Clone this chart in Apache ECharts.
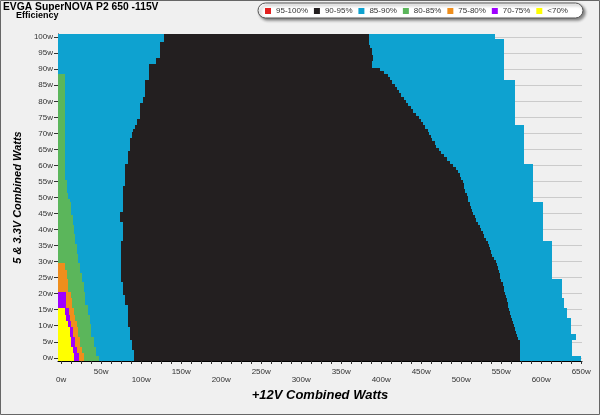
<!DOCTYPE html>
<html><head><meta charset="utf-8">
<script src="https://cdn.jsdelivr.net/npm/echarts@6/dist/echarts.min.js"></script>
<style>html,body{margin:0;padding:0;background:#f0f0f0}#c{width:600px;height:415px}</style>
</head><body><div id="c"></div>
<script>
// ---- text ----
const titleText = 'EVGA SuperNOVA P2 650 -115V';
const subtitleText = 'Efficiency';
const xAxisName = '+12V Combined Watts';
const yAxisName = '5 & 3.3V Combined Watts';
const legendNames = ['95-100%', '90-95%', '85-90%', '80-85%', '75-80%', '70-75%', '<70%'];
const bandColors = ['#e3201f', '#231f20', '#0ea2d0', '#5bb65b', '#ef8e1c', '#9f00ff', '#ffff00'];
const xTickLabels = [0, 50, 100, 150, 200, 250, 300, 350, 400, 450, 500, 550, 600, 650];
const yTickLabels = [0, 5, 10, 15, 20, 25, 30, 35, 40, 45, 50, 55, 60, 65, 70, 75, 80, 85, 90, 95, 100];

// ---- data: per row (5V+3.3V load in W), x boundary (12V load in W) where each band ends ----
// runs: [fromRow, toRow, watts]
const yellowEnd = [[0,1,16.3],[2,3,14.6],[4,6,12.5],[7,9,10.4],[10,11,8.3],[12,13,6.3],[14,15,5]];
const purpleEnd = [[0,1,22.5],[2,3,19.6],[4,6,17.5],[7,9,14.6],[10,11,12.5],[12,13,11],[14,15,10],[16,20,6.5]];
const orangeEnd = [[0,1,28.5],[2,3,25.8],[4,6,23.8],[7,9,21.6],[10,11,19.6],[12,13,17.5],[14,15,15.4],[16,18,13.4],[19,20,12],[21,24,9],[25,27,7],[28,29,4.5]];
const greenEnd = [[0,0,46.7],[1,3,44],[4,6,40.5],[7,10,37.5],[11,13,35.5],[14,16,33],[17,20,30],[21,23,28],[24,26,25.8],[27,29,23.8],[30,32,21.6],[33,35,19.6],[36,38,17.5],[39,41,16],[42,44,14.6],[45,48,12.5],[49,49,11],[50,51,9],[52,55,7],[56,88,5]];
const blackStart = [[0,2,91],[3,5,88],[6,9,86],[10,16,83],[17,19,80],[20,23,77],[24,36,75],[37,42,77],[43,45,74],[46,53,77],[54,60,80],[61,64,83],[65,68,86],[69,70,88],[71,71,90],[72,72,92],[73,74,95],[75,79,99],[80,81,102],[82,86,105],[87,91,110],[92,93,119],[94,98,123],[99,100,128]];
const blackEnd = [574,574,574,574,574,573,571,570,568,567,566,565,564,562,561,560,559,558,557,556,
  555,554,553,552,550,549,548,547,546,545,543,541,539,537,536,535,533,531,529,527,
  525,523,521,519,517,515,514,512,511,509,508,507,505,504,503,502,500,499,496,493,
  490,486,482,478,475,472,469,467,464,462,460,458,455,452,450,447,443,440,437,434,
  431,428,425,422,420,417,414,411,408,404,398,389,389,390,390,388,388,386,385,385,385];
const blueEnd = [[0,0,650],[1,5,638],[6,7,643],[8,12,637],[13,15,632],[16,18,629],[19,24,626],[25,36,614],[37,48,602],[49,60,590],[61,72,578],[73,86,567],[87,99,554],[100,100,542]];

// ---- axis ranges ----
const X_MIN = -4, X_MAX = 651, Y_MIN = -1, Y_MAX = 101, ROW_MAX = 100;
const FONT = '"Liberation Sans", Arial, sans-serif';

function fromRuns(runs) { const m = {}; runs.forEach(([a, b, v]) => { for (let r = a; r <= b; r++) m[r] = v; }); return m; }
const yMap = fromRuns(yellowEnd), pMap = fromRuns(purpleEnd), oMap = fromRuns(orangeEnd),
      gMap = fromRuns(greenEnd), bsMap = fromRuns(blackStart), beMap = fromRuns(blueEnd);

const bandData = legendNames.map(() => []);
for (let r = 0; r <= ROW_MAX; r++) {
  const y0 = r === 0 ? Y_MIN : r - 0.5;
  const y1 = r === ROW_MAX ? Y_MAX : r + 0.5;
  let prev = X_MIN;
  const push = (band, x1) => { if (x1 != null && x1 > prev) { bandData[band].push([prev, x1, y0, y1]); prev = x1; } };
  push(6, yMap[r]); push(5, pMap[r]); push(4, oMap[r]); push(3, gMap[r]);
  push(2, bsMap[r]); push(1, blackEnd[r]); push(2, beMap[r]);
}

function renderCell(params, api) {
  const a = api.coord([api.value(0), api.value(3)]);
  const b = api.coord([api.value(1), api.value(2)]);
  const x = Math.round(a[0]), y = Math.round(a[1]);
  return { type: 'rect', shape: { x: x, y: y, width: Math.round(b[0]) - x, height: Math.round(b[1]) - y },
           style: { fill: api.visual('color') } };
}

const xTicks = []; for (let v = 0; v <= 650; v += 12.5) xTicks.push(v);
const yMinorTicks = []; for (let v = 0; v <= 100; v += 1) yMinorTicks.push(v);

const gridBox = { left: 58, right: 18, top: 34, bottom: 54, outerBoundsMode: 'none', containLabel: false };

const chart = echarts.init(document.getElementById('c'), null, { renderer: 'canvas' });
chart.setOption({
  animation: false,
  backgroundColor: '#f0f0f0',
  title: [
    { text: titleText, left: 3, top: 2, padding: 0, textStyle: { fontSize: 10.3, fontWeight: 'bold', color: '#000', fontFamily: FONT } },
    { text: subtitleText, left: 16, top: 11, padding: 0, textStyle: { fontSize: 9, fontWeight: 'bold', color: '#000', fontFamily: FONT } }
  ],
  legend: {
    left: 258, top: 3, icon: 'rect', itemWidth: 6, itemHeight: 6, itemGap: 5.9,
    padding: [4, 15, 3, 7], selectedMode: false, data: legendNames,
    formatter: name => '{t|' + name + '}',
    textStyle: { fontSize: 8, color: '#333', fontFamily: FONT,
      rich: { t: { width: 30, fontSize: 8, color: '#333', fontFamily: FONT } } },
    backgroundColor: '#fff', borderColor: '#555', borderWidth: 1, borderRadius: 8,
    shadowBlur: 3, shadowColor: 'rgba(0,0,0,0.45)', shadowOffsetX: 2, shadowOffsetY: 2
  },
  graphic: [{ type: 'rect', shape: { x: 0.5, y: 0.5, width: 599, height: 414 }, style: { fill: 'none', stroke: '#666', lineWidth: 1 }, z: 100 }],
  grid: [gridBox, Object.assign({}, gridBox)],
  xAxis: [{
    type: 'value', min: X_MIN, max: X_MAX,
    name: xAxisName, nameLocation: 'middle', nameGap: 24,
    nameTextStyle: { fontSize: 13, fontWeight: 'bold', fontStyle: 'italic', color: '#000', fontFamily: FONT },
    axisLine: { show: true, onZero: false, lineStyle: { color: '#000', width: 1 } },
    axisTick: { show: true, length: 3, customValues: xTicks, lineStyle: { color: '#333' } },
    axisLabel: { customValues: xTickLabels, margin: 7, fontSize: 8, lineHeight: 8, color: '#333', fontFamily: FONT,
      formatter: v => (v % 100 === 0 ? '\n' : '') + v + 'w' },
    splitLine: { show: false }
  }, {
    gridIndex: 1, type: 'value', min: X_MIN, max: X_MAX, show: false
  }],
  yAxis: [
    {
      type: 'value', min: Y_MIN, max: Y_MAX, position: 'left',
      name: yAxisName, nameLocation: 'middle', nameGap: 32,
      nameTextStyle: { fontSize: 11, fontWeight: 'bold', fontStyle: 'italic', color: '#000', fontFamily: FONT },
      axisLine: { show: true, onZero: false, lineStyle: { color: '#000', width: 1 } },
      axisTick: { show: true, length: 4, customValues: yTickLabels, lineStyle: { color: '#333' } },
      axisLabel: { customValues: yTickLabels, margin: 5, fontSize: 8, color: '#333', fontFamily: FONT, formatter: v => v + 'w' },
      splitLine: { show: true, lineStyle: { color: '#cbcbcb', width: 1 } }
    },
    {
      gridIndex: 1, type: 'value', min: Y_MIN, max: Y_MAX, position: 'left',
      axisLine: { show: false },
      axisTick: { show: true, length: 2, customValues: yMinorTicks, lineStyle: { color: '#555' } },
      axisLabel: { show: false }, splitLine: { show: false }
    }
  ],
  series: legendNames.map((name, i) => ({
    name: name, type: 'custom', renderItem: renderCell, data: bandData[i],
    xAxisIndex: 0, yAxisIndex: 0,
    itemStyle: { color: bandColors[i] }, encode: { x: [0, 1], y: [2, 3] },
    clip: true, silent: true, z: 2
  }))
});
</script></body></html>
